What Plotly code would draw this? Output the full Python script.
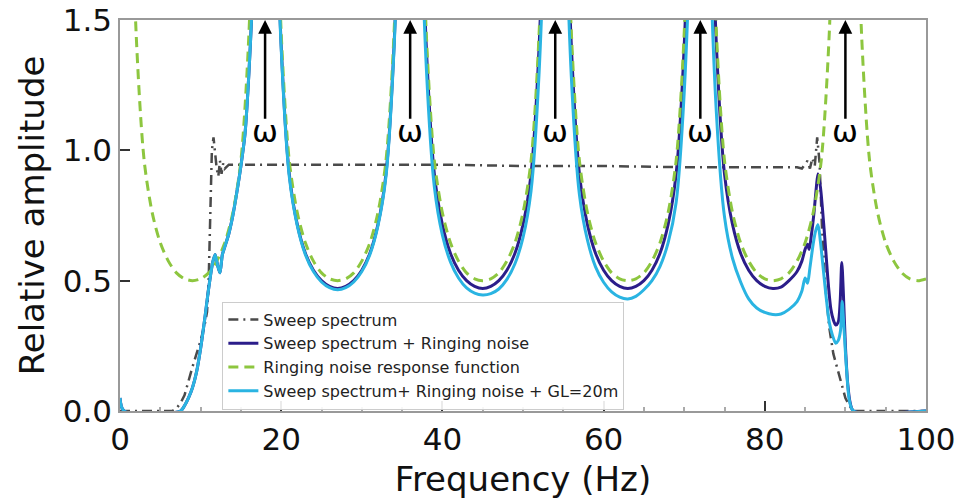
import plotly.graph_objects as go

# ---------------- data ----------------
# Sweep spectrum (dash-dot grey)
sweep_f = [0, 6.5, 7, 7.5, 8, 8.5, 9, 9.5, 10, 10.5, 10.8, 11.0, 11.2, 11.4, 11.6,
           11.8, 12.0, 12.2, 12.4, 12.6, 12.8, 13.0, 13.5, 14, 20, 30, 40, 50, 60,
           70, 80, 84, 84.6, 85.0, 85.3, 85.6, 85.9, 86.2, 86.5, 86.8, 87.1, 87.5,
           88, 88.5, 89, 89.5, 90, 90.5, 91, 100]
sweep_amp = [0, 0, 0.01, 0.03, 0.06, 0.12, 0.17, 0.22, 0.27, 0.33, 0.38, 0.50, 0.80,
             1.00, 1.05, 0.99, 0.93, 0.90, 0.96, 0.91, 0.95, 0.93, 0.945, 0.945,
             0.945, 0.945, 0.945, 0.94, 0.94, 0.935, 0.935, 0.935, 0.93, 0.95, 0.96,
             0.93, 0.97, 0.94, 1.05, 0.95, 0.70, 0.48, 0.32, 0.22, 0.16, 0.10, 0.05,
             0.02, 0.0, 0.0]

# Ringing noise response function (green dashed), 1 Hz grid from 1 to 100 Hz
ring_f = list(range(1, 101))
ring_amp = [
    2.60, 1.45, 0.96, 0.76, 0.645, 0.575, 0.53, 0.507, 0.50, 0.507,
    0.53, 0.575, 0.645, 0.76, 0.96, 1.45, 2.60, 4.00, 2.60, 1.45,
    0.96, 0.76, 0.645, 0.575, 0.53, 0.507, 0.50, 0.507, 0.53, 0.575,
    0.645, 0.76, 0.96, 1.45, 2.60, 4.00, 2.60, 1.45, 0.96, 0.76,
    0.645, 0.575, 0.53, 0.507, 0.50, 0.507, 0.53, 0.575, 0.645, 0.76,
    0.96, 1.45, 2.60, 4.00, 2.60, 1.45, 0.96, 0.76, 0.645, 0.575,
    0.53, 0.507, 0.50, 0.507, 0.53, 0.575, 0.645, 0.76, 0.96, 1.45,
    2.60, 4.00, 2.60, 1.45, 0.96, 0.76, 0.645, 0.575, 0.53, 0.507,
    0.50, 0.507, 0.53, 0.575, 0.645, 0.76, 0.96, 1.45, 2.60, 4.00,
    2.60, 1.45, 0.96, 0.76, 0.645, 0.575, 0.53, 0.507, 0.50, 0.507,
]

# Sweep spectrum + ringing noise (dark blue)
noisy_f = [0, 0.5, 7.5, 8, 8.5, 9, 9.5, 10, 10.5, 11, 11.5, 11.8, 12.1, 12.4, 12.7,
           13, 13.5, 14, 14.5, 15, 15.5, 16, 16.5, 17, 18,
           19, 20, 21, 22, 23, 24, 25, 26, 27, 28, 29, 30, 31, 32, 33, 34, 35, 36,
           37, 38, 39, 40, 41, 42, 43, 44, 45, 46, 47, 48, 49, 50, 51, 52, 53, 54,
           55, 56, 57, 58, 59, 60, 61, 62, 63, 64, 65, 66, 67, 68, 69, 70, 71, 72,
           73, 74, 75, 76, 77, 78, 79, 80, 81, 82, 83, 84, 84.6, 85.0, 85.3, 85.5,
           85.8, 86.1, 86.4, 86.6, 86.9, 87.3, 87.6, 87.9, 88.2, 88.5, 88.8, 89.1,
           89.35, 89.55, 89.75, 90.0, 90.3, 90.6, 91.0, 100]
noisy_amp = [0.05, 0.0, 0.0, 0.02, 0.05, 0.09, 0.15, 0.24, 0.35, 0.47, 0.57, 0.60,
             0.56, 0.53, 0.60, 0.63, 0.68, 0.75, 0.84, 0.94, 1.06, 1.30, 1.65, 2.30,
             4.00,
             2.45, 1.40, 0.91, 0.715, 0.605, 0.54, 0.50, 0.478, 0.47, 0.478, 0.50,
             0.54, 0.605, 0.715, 0.91, 1.40, 2.45, 4.00,
             2.45, 1.40, 0.91, 0.715, 0.605, 0.54, 0.50, 0.478, 0.47, 0.478, 0.50,
             0.54, 0.605, 0.715, 0.91, 1.40, 2.45, 4.00,
             2.45, 1.40, 0.91, 0.715, 0.605, 0.54, 0.50, 0.478, 0.47, 0.478, 0.50,
             0.54, 0.605, 0.715, 0.91, 1.40, 2.45, 4.00,
             2.45, 1.40, 0.91, 0.715, 0.605, 0.54, 0.50, 0.478, 0.47, 0.475, 0.50,
             0.535, 0.575, 0.62, 0.64, 0.62, 0.68, 0.76, 0.86, 0.91, 0.86, 0.72,
             0.60, 0.48, 0.39, 0.35, 0.33, 0.34, 0.42, 0.57, 0.45, 0.25, 0.10, 0.03,
             0.0, 0.0]

# Sweep spectrum + ringing noise + GL=20m (light blue)
gl_f = [0, 0.5, 7.5, 8, 8.5, 9, 9.5, 10, 10.5, 11, 11.5, 11.8, 12.1, 12.4, 12.7,
        13, 13.5, 14, 14.5, 15, 15.5, 16, 16.5, 17, 18,
        19, 20, 21, 22, 23, 24, 25, 26, 27, 28, 29, 30, 31, 32, 33, 34, 35, 36,
        37, 38, 39, 40, 41, 42, 43, 44, 45, 46, 47, 48, 49, 50, 51, 52, 53, 54,
        55, 56, 57, 58, 59, 60, 61, 62, 63, 64, 65, 66, 67, 68, 69, 70, 71, 72,
        73, 74, 75, 76, 77, 78, 79, 80, 81, 82, 83, 84, 84.6, 85.0, 85.3, 85.6,
        86.0, 86.3, 86.6, 86.9, 87.3, 87.6, 88.0, 88.4, 88.8, 89.1, 89.4, 89.6,
        89.8, 90.1, 90.5, 91.0, 100]
gl_amp = [0.05, 0.0, 0.0, 0.02, 0.05, 0.09, 0.15, 0.24, 0.35, 0.47, 0.57, 0.60,
          0.56, 0.53, 0.60, 0.63, 0.68, 0.75, 0.84, 0.94, 1.06, 1.30, 1.65, 2.30,
          4.00,
          2.40, 1.39, 0.90, 0.71, 0.60, 0.535, 0.495, 0.473, 0.465, 0.473, 0.495,
          0.535, 0.60, 0.71, 0.90, 1.39, 2.40, 4.00,
          2.30, 1.32, 0.86, 0.675, 0.572, 0.51, 0.472, 0.452, 0.445, 0.45, 0.468,
          0.505, 0.565, 0.665, 0.845, 1.30, 2.25, 4.00,
          2.25, 1.28, 0.83, 0.655, 0.553, 0.494, 0.457, 0.437, 0.43, 0.44, 0.465,
          0.50, 0.555, 0.645, 0.80, 1.22, 2.10, 4.00,
          2.00, 1.14, 0.745, 0.585, 0.495, 0.43, 0.395, 0.378, 0.37, 0.372, 0.39,
          0.42, 0.46, 0.51, 0.49, 0.55, 0.64, 0.69, 0.715, 0.65, 0.53, 0.44, 0.34,
          0.29, 0.26, 0.27, 0.31, 0.42, 0.33, 0.18, 0.04, 0.0, 0.0]

# Ringing resonance frequencies marked with arrows
ring_peaks = [18, 36, 54, 72, 90]

x_ticks = [0, 20, 40, 60, 80, 100]
y_ticks = [0.0, 0.5, 1.0, 1.5]
y_ticklabels = ["0.0", "0.5", "1.0", "1.5"]

# ---------------- figure ----------------
FONT = "DejaVu Sans"
fig = go.Figure()

fig.add_trace(go.Scatter(
    x=sweep_f, y=sweep_amp, mode="lines", name="Sweep spectrum",
    line=dict(color="#4a4a4a", width=2.5, dash="10px,5px,2px,5px")))
fig.add_trace(go.Scatter(
    x=noisy_f, y=noisy_amp, mode="lines", name="Sweep spectrum + Ringing noise",
    line=dict(color="#2b1d8a", width=3, shape="spline", smoothing=0.8)))
fig.add_trace(go.Scatter(
    x=ring_f, y=ring_amp, mode="lines", name="Ringing noise response function",
    line=dict(color="#8dc63f", width=3, dash="10px,6px", shape="spline", smoothing=0.8)))
fig.add_trace(go.Scatter(
    x=gl_f, y=gl_amp, mode="lines", name="Sweep spectrum+ Ringing noise + GL=20m",
    line=dict(color="#2ab4e2", width=3, shape="spline", smoothing=0.8)))

for f in ring_peaks:
    fig.add_annotation(x=f, y=1.5, ax=f, ay=1.115, xref="x", yref="y",
                       axref="x", ayref="y", text="", showarrow=True,
                       arrowhead=2, arrowsize=1.1, arrowwidth=2.5,
                       arrowcolor="black", standoff=0)
    fig.add_annotation(x=f, y=1.075, xref="x", yref="y", text="ω",
                       showarrow=False, font=dict(family=FONT, size=31, color="black"))

axis_common = dict(
    showgrid=False, zeroline=False, showline=True, linecolor="#999999",
    linewidth=1.5, mirror=True, ticks="inside", ticklen=10, tickwidth=1.5,
    tickcolor="#333333", tickfont=dict(family=FONT, size=31, color="#111111"),
    automargin=False,
)

fig.update_layout(
    width=956, height=499,
    margin=dict(l=120, r=30, t=20, b=88),
    paper_bgcolor="white", plot_bgcolor="white",
    showlegend=True,
    legend=dict(x=0.127, y=0.28, xanchor="left", yanchor="top",
                bgcolor="rgba(255,255,255,0.9)", bordercolor="#cccccc",
                borderwidth=1, font=dict(family=FONT, size=16, color="#222222")),
    xaxis=dict(range=[0, 100], tickvals=x_ticks,
               minor=dict(ticks="inside", dtick=5, ticklen=4, tickcolor="#aaaaaa"),
               title=dict(text="Frequency (Hz)", standoff=14,
                          font=dict(family=FONT, size=34, color="#111111")),
               **axis_common),
    yaxis=dict(range=[0, 1.5], tickvals=y_ticks, ticktext=y_ticklabels,
               title=dict(text="Relative amplitude", standoff=8,
                          font=dict(family=FONT, size=34, color="#111111")),
               **axis_common),
)

fig.write_html("out.html")
